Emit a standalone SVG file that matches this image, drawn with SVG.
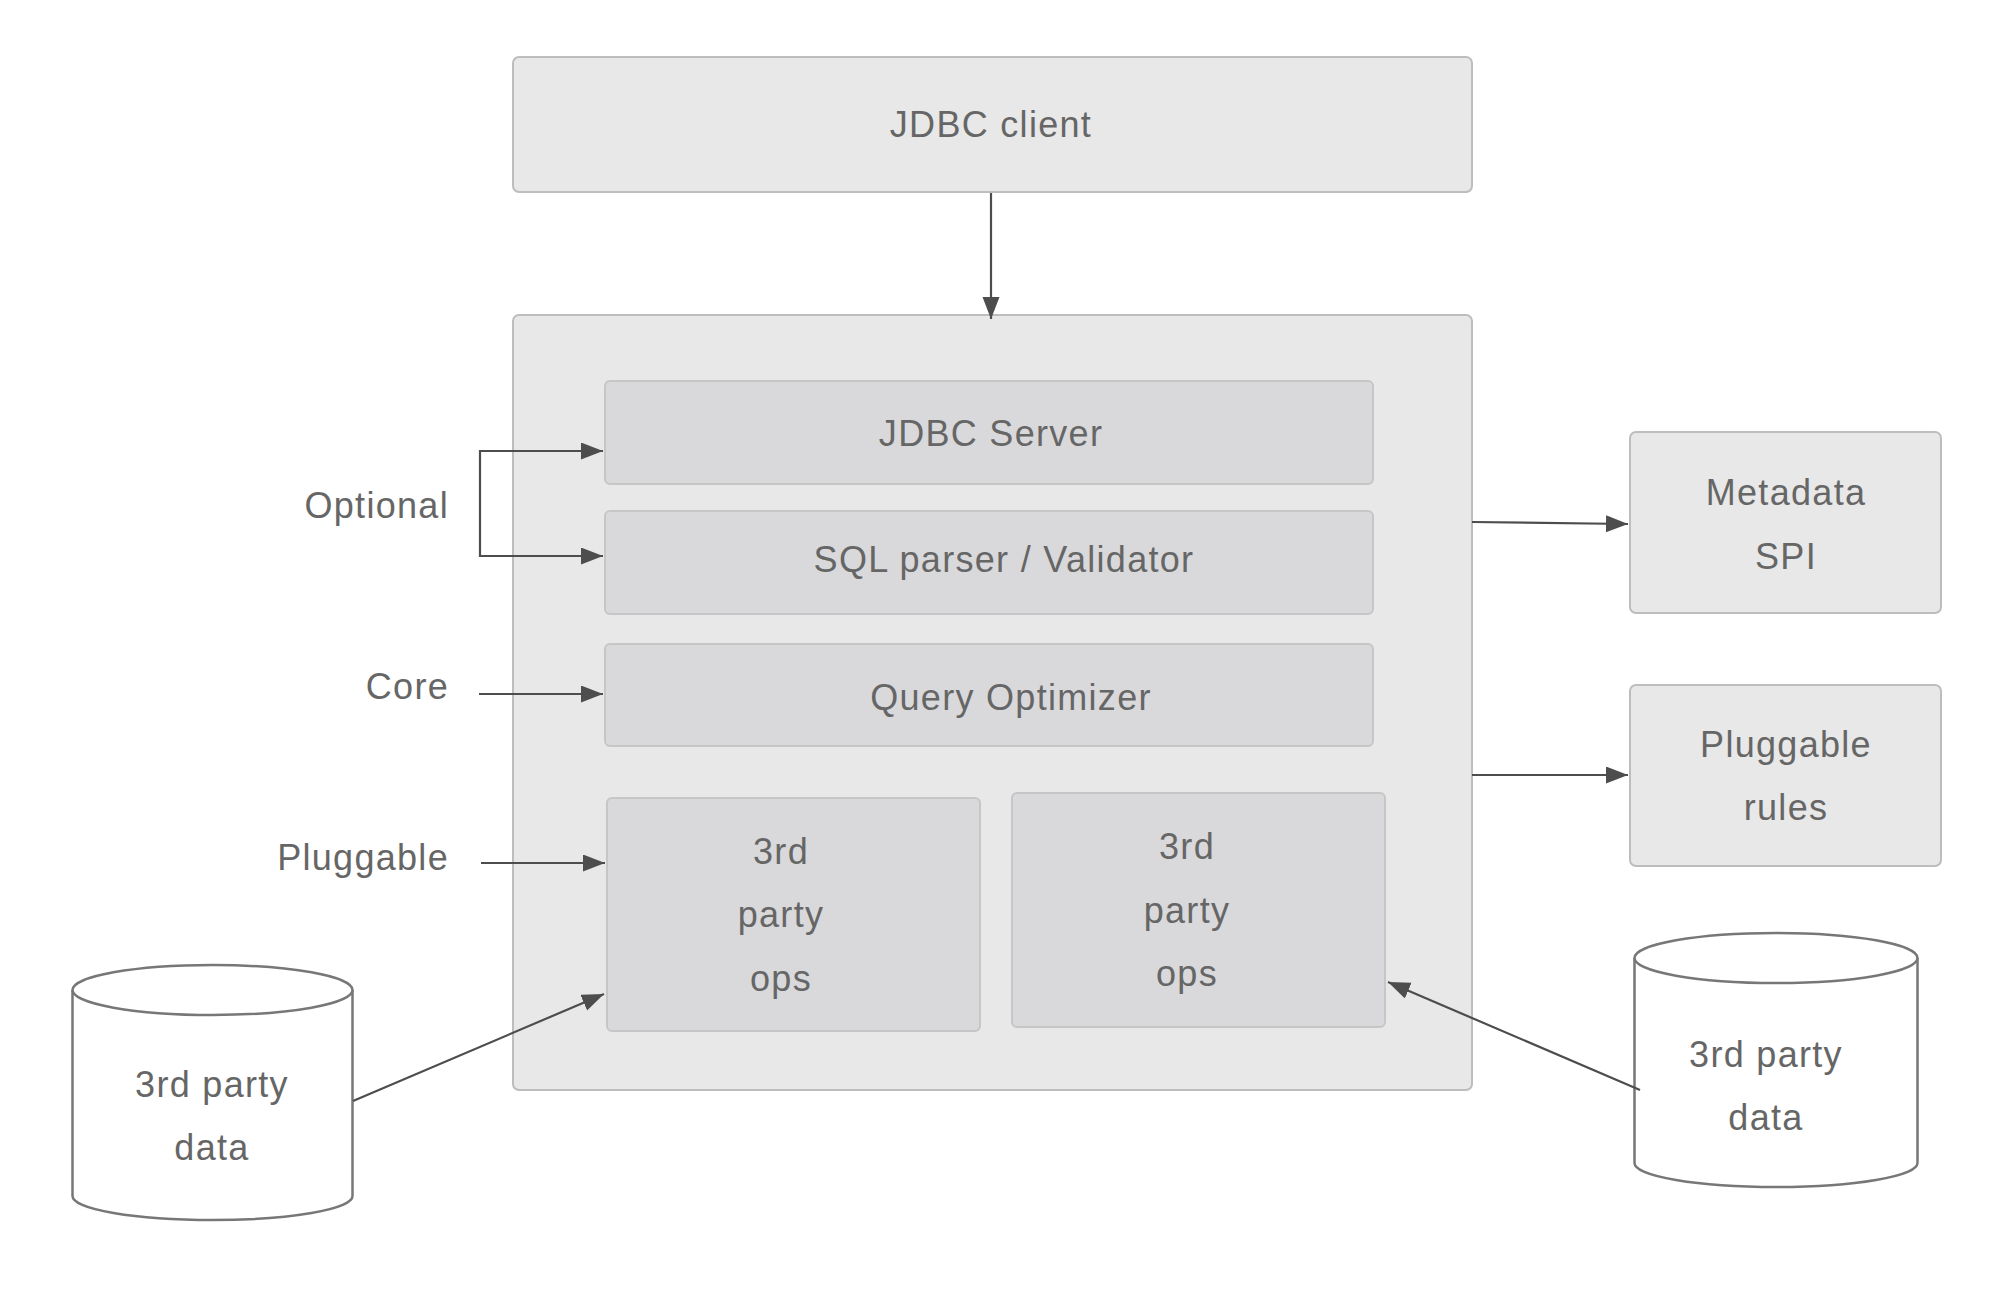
<svg xmlns="http://www.w3.org/2000/svg" width="2000" height="1316" viewBox="0 0 2000 1316">
<defs>
<marker id="ah" markerUnits="userSpaceOnUse" markerWidth="23" markerHeight="18" refX="22" refY="8.5" orient="auto">
<path d="M0,0 L22,8.5 L0,17 z" fill="#4d4d4d"/>
</marker>
<style>
.outer{fill:#e8e8e8;stroke:#bdbdbd;stroke-width:2}
.inner{fill:#d9d9db;stroke:#c6c6c6;stroke-width:2}
.cyl{fill:#ffffff;stroke:#777777;stroke-width:2.5}
.t{font-family:"Liberation Sans",Arial,sans-serif;font-size:36px;fill:#666666;letter-spacing:1.3px}
.c{text-anchor:middle}
.r{text-anchor:end}
.conn{fill:none;stroke:#4d4d4d;stroke-width:2.2}
</style>
</defs>
<rect width="2000" height="1316" fill="#ffffff"/>

<g id="jdbc-client">
<rect class="outer" x="513" y="57" width="959" height="135" rx="6"/>
<text class="t c" x="991" y="137">JDBC client</text>
</g>

<g id="core-container">
<rect class="outer" x="513" y="315" width="959" height="775" rx="6"/>
</g>

<g id="jdbc-server">
<rect class="inner" x="605" y="381" width="768" height="103" rx="5"/>
<text class="t c" x="991" y="446">JDBC Server</text>
</g>

<g id="sql-parser">
<rect class="inner" x="605" y="511" width="768" height="103" rx="5"/>
<text class="t c" x="1004" y="572">SQL parser / Validator</text>
</g>

<g id="query-optimizer">
<rect class="inner" x="605" y="644" width="768" height="102" rx="5"/>
<text class="t c" x="1011" y="710">Query Optimizer</text>
</g>

<g id="ops-left">
<rect class="inner" x="607" y="798" width="373" height="233" rx="5"/>
<text class="t c" x="781" y="864">3rd</text>
<text class="t c" x="781" y="927">party</text>
<text class="t c" x="781" y="991">ops</text>
</g>

<g id="ops-right">
<rect class="inner" x="1012" y="793" width="373" height="234" rx="5"/>
<text class="t c" x="1187" y="859">3rd</text>
<text class="t c" x="1187" y="923">party</text>
<text class="t c" x="1187" y="986">ops</text>
</g>

<g id="metadata-spi">
<rect class="outer" x="1630" y="432" width="311" height="181" rx="6"/>
<text class="t c" x="1786" y="505">Metadata</text>
<text class="t c" x="1786" y="569">SPI</text>
</g>

<g id="pluggable-rules">
<rect class="outer" x="1630" y="685" width="311" height="181" rx="6"/>
<text class="t c" x="1786" y="757">Pluggable</text>
<text class="t c" x="1786" y="820">rules</text>
</g>

<g id="data-left">
<path class="cyl" d="M72.5,990 A140,25 0 0 1 352.5,990 L352.5,1196 A140,24 0 0 1 72.5,1196 Z"/>
<path class="cyl" fill="none" d="M72.5,990 A140,25 0 0 0 352.5,990"/>
<text class="t c" x="212" y="1097">3rd party</text>
<text class="t c" x="212" y="1160">data</text>
</g>

<g id="data-right">
<path class="cyl" d="M1634.5,958 A141.5,25 0 0 1 1917.5,958 L1917.5,1163 A141.5,24 0 0 1 1634.5,1163 Z"/>
<path class="cyl" fill="none" d="M1634.5,958 A141.5,25 0 0 0 1917.5,958"/>
<text class="t c" x="1766" y="1067">3rd party</text>
<text class="t c" x="1766" y="1130">data</text>
</g>

<g id="labels">
<text class="t r" x="449" y="518">Optional</text>
<text class="t r" x="449" y="699">Core</text>
<text class="t r" x="449" y="870">Pluggable</text>
</g>

<g id="connectors">
<line class="conn" x1="991" y1="193" x2="991" y2="319" marker-end="url(#ah)"/>
<path class="conn" d="M603,451 H480 V556 H603" marker-end="url(#ah)"/>
<line class="conn" x1="480" y1="451" x2="603" y2="451" marker-end="url(#ah)"/>
<line class="conn" x1="479" y1="694" x2="603" y2="694" marker-end="url(#ah)"/>
<line class="conn" x1="481" y1="863" x2="605" y2="863" marker-end="url(#ah)"/>
<line class="conn" x1="353" y1="1101" x2="604" y2="994" marker-end="url(#ah)"/>
<line class="conn" x1="1640" y1="1090" x2="1388" y2="982" marker-end="url(#ah)"/>
<line class="conn" x1="1472" y1="522" x2="1628" y2="524" marker-end="url(#ah)"/>
<line class="conn" x1="1472" y1="775" x2="1628" y2="775" marker-end="url(#ah)"/>
</g>
</svg>
